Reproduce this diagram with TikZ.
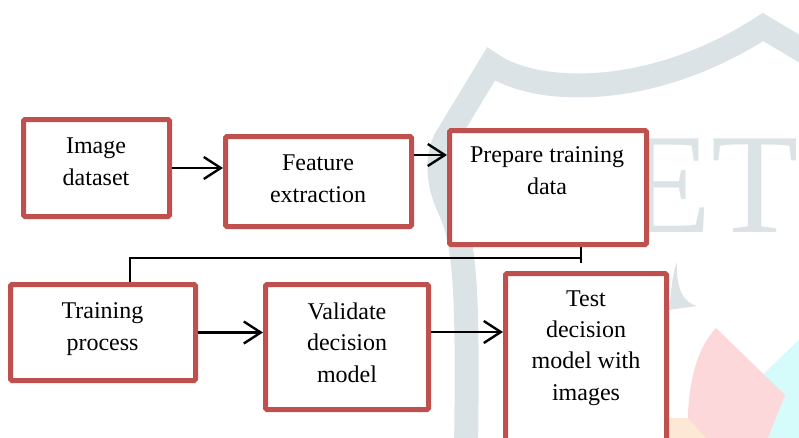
\documentclass[tikz,border=0pt]{standalone}
\usepackage{fontspec}
\setmainfont{Liberation Serif}
\usetikzlibrary{arrows.meta,calc}
\definecolor{boxred}{HTML}{C0504D}
\definecolor{wmgrey}{HTML}{DCE3E7}
\definecolor{wmpink}{HTML}{FDD8DA}
\definecolor{wmcyan}{HTML}{D6FBFB}
\definecolor{wmpeach}{HTML}{FDE8D5}
\begin{document}
\begin{tikzpicture}[x=1pt,y=-1pt,
  box/.style={draw=boxred, line width=5pt, fill=white, rounded corners=1.5pt, inner sep=0pt},
  txt/.style={font=\fontsize{24}{31.3}\selectfont, align=center, inner sep=0pt, anchor=base},
  arr/.style={line width=2.4pt, -{Straight Barb[length=17pt,width=22pt]}},
  conn/.style={line width=1.8pt}]
\useasboundingbox (0,0) rectangle (799,437);
\clip (0,0) rectangle (799,437);
% watermark
\draw[wmgrey, line width=24pt, line join=miter]
  (815,58) -- (763,27) .. controls (650,100) and (535,95) .. (491,64)
  -- (445,140) .. controls (436,160) and (438,185) .. (450,210)
  .. controls (466,245) and (468,300) .. (466,450);
\node[wmgrey, font=\fontsize{143}{143}\selectfont, anchor=base west, inner sep=0pt] (wm) at (624,232) {ET};
\fill[wmgrey] (677,262) .. controls (670,280) and (672,300) .. (668,310) -- (697,306)
  .. controls (685,303) and (676,292) .. (677,262);
\fill[wmcyan] (805,334) -- (755,382) -- (755,440) -- (805,440) -- cycle;
\fill[wmpink] (716,328) -- (785,395) -- (767,440) -- (688,440)
  .. controls (686,390) and (695,350) .. (716,328);
\fill[wmpeach] (669,418) -- (688,418) -- (707,440) -- (669,440) -- cycle;
% boxes
\node[box, minimum width=146pt, minimum height=97pt] (b1) at (96.5,168) {};
\node[box, minimum width=186pt, minimum height=90pt] (b2) at (318.5,181.5) {};
\node[box, minimum width=197pt, minimum height=114pt] (b3) at (548,187.5) {};
\node[box, minimum width=185pt, minimum height=96pt] (b4) at (103,332.5) {};
\node[box, minimum width=163pt, minimum height=125pt] (b5) at (347,347) {};
\node[box, minimum width=161pt, minimum height=176.5pt] (b6) at (586,361.75) {};
% texts (base anchor = baseline of the last line)
\node[txt] (t1) at (96,185) {Image\\dataset};
\node[txt] (t2) at (318,202) {Feature\\extraction};
\node[txt] (t3) at (547,194) {Prepare training\\data};
\node[txt] (t4) at (102.5,350) {Training\\process};
\node[txt] (t5) at (347,382) {Validate\\decision\\model};
\node[txt] (t6) at (586,400) {Test\\decision\\model with\\images};
% arrows
\draw[arr] (b1.east) -- (b1.east -| b2.west);
\draw[arr] ([yshift=26.5pt]b2.east) -- ([yshift=26.5pt]b2.east -| b3.west);
\draw[arr] (b4.east) -- (b4.east -| b5.west);
\draw[arr] ([yshift=15pt]b5.east) -- ([yshift=15pt]b5.east -| b6.west);
% connector
\coordinate (j) at (581,258);
\coordinate (k) at (130,258);
\draw[conn] (b3.south -| j) -- ($(j)+(0,5)$);
\draw[conn] (j) -- (k) -- (k |- b4.north);
\end{tikzpicture}
\end{document}
